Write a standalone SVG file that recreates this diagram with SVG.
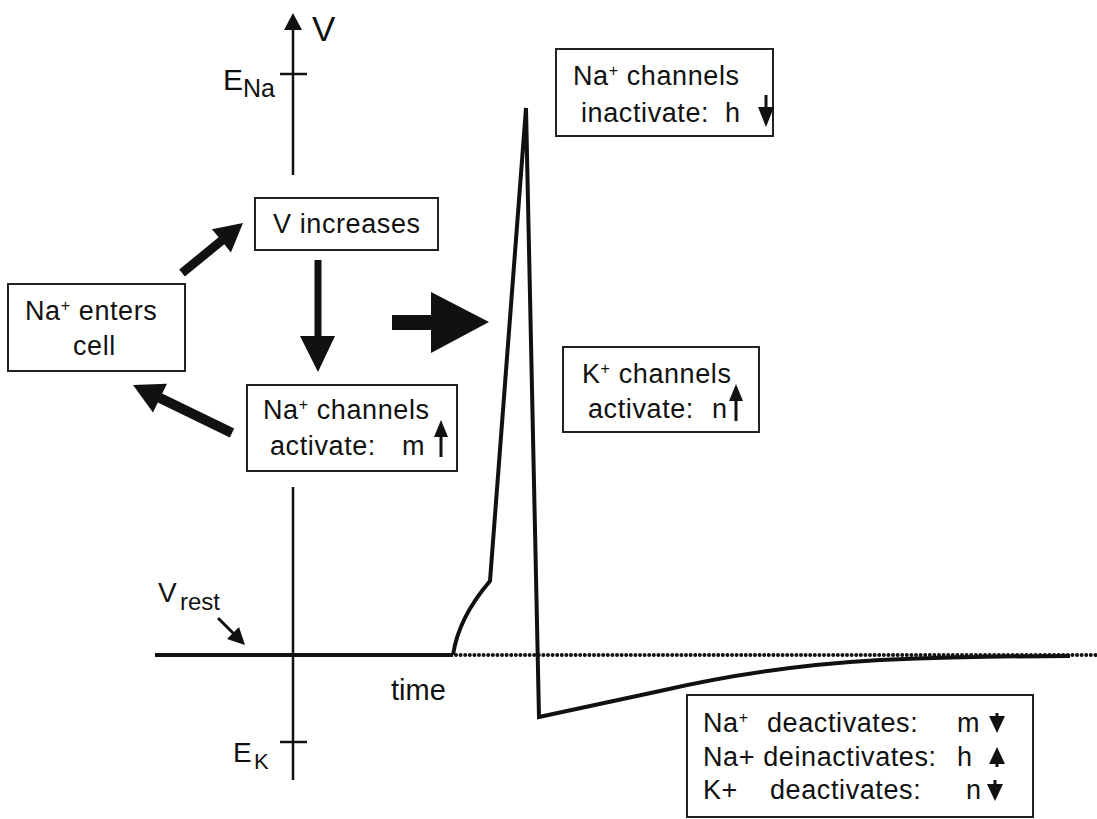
<svg xmlns="http://www.w3.org/2000/svg" width="1097" height="819" viewBox="0 0 1097 819">
<defs>
<style>
text{font-family:"Liberation Sans",Arial,sans-serif;fill:#111;}
.t{font-size:27px;letter-spacing:0.6px;}
.sup{font-size:16px;}
.box{fill:#fff;stroke:#222;stroke-width:2;}
.ax{stroke:#111;stroke-width:2.5;fill:none;}
.curve{stroke:#111;stroke-width:4;fill:none;stroke-linejoin:miter;}
.fill{fill:#111;stroke:none;}
.sm{stroke:#111;stroke-width:3;fill:none;}
</style>
</defs>
<rect width="1097" height="819" fill="#fff"/>

<g id="axes">
<line class="ax" x1="293" y1="28" x2="293" y2="175"/>
<polygon class="fill" points="293,13 284,30 302,30"/>
<line class="ax" x1="293" y1="487" x2="293" y2="780"/>
<line class="ax" x1="280" y1="74" x2="307" y2="74" stroke-width="2"/>
<line class="ax" x1="280" y1="742" x2="307" y2="742" stroke-width="2"/>
<line x1="155" y1="655" x2="453" y2="655" stroke="#111" stroke-width="4"/>
<line x1="456" y1="655" x2="1097" y2="655" stroke="#111" stroke-width="4" stroke-dasharray="0 4.6" stroke-linecap="round"/>
<text x="312" y="41" style="font-size:35px">V</text>
<text x="223" y="90" style="font-size:30px">E</text>
<text x="243" y="97" style="font-size:25px">Na</text>
<text x="233" y="762" style="font-size:28px">E</text>
<text x="254" y="769" style="font-size:22px">K</text>
<text x="158" y="602" style="font-size:28px">V</text>
<text x="180" y="610" style="font-size:24px">rest</text>
<text x="391" y="700" style="font-size:29px">time</text>
<line class="sm" x1="218" y1="618" x2="234" y2="634"/>
<polygon class="fill" points="245,645 227,639 239,627"/>
</g>

<g id="action-potential">
<path class="curve" d="M453,655 C457,628 472,602 490,581 L526,108 L539,717 L660,691 C720,677 790,665 880,660 C960,657 1020,656 1070,656"/>
</g>

<g id="node-na-enters">
<rect class="box" x="8" y="284" width="177" height="87"/>
<text class="t" x="25" y="320">Na<tspan class="sup" dy="-9">+</tspan><tspan dy="9"> enters</tspan></text>
<text class="t" x="73" y="355">cell</text>
</g>

<g id="node-v-increases">
<rect class="box" x="255" y="198" width="183" height="52"/>
<text class="t" x="273" y="233">V increases</text>
</g>

<g id="node-na-activate">
<rect class="box" x="247" y="385" width="210" height="86"/>
<text class="t" x="263" y="419">Na<tspan class="sup" dy="-9">+</tspan><tspan dy="9"> channels</tspan></text>
<text class="t" x="270" y="455">activate:</text>
<text class="t" x="402" y="455">m</text>
<line class="sm" x1="441" y1="434" x2="441" y2="457"/>
<polygon class="fill" points="441,420 434,437 448,437"/>
</g>

<g id="node-na-inactivate">
<rect class="box" x="556" y="49" width="217" height="87"/>
<text class="t" x="573" y="85">Na<tspan class="sup" dy="-9">+</tspan><tspan dy="9"> channels</tspan></text>
<text class="t" x="581" y="122">inactivate:</text>
<text class="t" x="725" y="122">h</text>
<line class="sm" x1="766" y1="95" x2="766" y2="110"/>
<polygon class="fill" points="766,127 758,107 774,107"/>
</g>

<g id="node-k-activate">
<rect class="box" x="563" y="347" width="196" height="85"/>
<text class="t" x="582" y="383">K<tspan class="sup" dy="-9">+</tspan><tspan dy="9"> channels</tspan></text>
<text class="t" x="588" y="418">activate:</text>
<text class="t" x="712" y="418">n</text>
<line class="sm" x1="736" y1="398" x2="736" y2="421"/>
<polygon class="fill" points="736,384 729,401 743,401"/>
</g>

<g id="node-recovery">
<rect class="box" x="687" y="695" width="346" height="122"/>
<text class="t" x="703" y="732">Na<tspan class="sup" dy="-9">+</tspan></text>
<text class="t" x="767" y="732">deactivates:</text>
<text class="t" x="957" y="732">m</text>
<line class="sm" x1="997" y1="713" x2="997" y2="720"/>
<polygon class="fill" points="997,733 989,716 1005,716"/>
<text class="t" x="703" y="766">Na+ deinactivates:</text>
<text class="t" x="957" y="766">h</text>
<line class="sm" x1="997" y1="760" x2="997" y2="767"/>
<polygon class="fill" points="997,747 989,764 1005,764"/>
<text class="t" x="703" y="799">K+</text>
<text class="t" x="770" y="799">deactivates:</text>
<text class="t" x="966" y="799">n</text>
<line class="sm" x1="995" y1="780" x2="995" y2="788"/>
<polygon class="fill" points="995,801 987,784 1003,784"/>
</g>

<g id="connectors">
<polygon class="fill" points="179.2,269.5 218.6,237.3 211.9,229.2 243,223 230.9,252.4 224.3,244.3 184.9,276.5"/>
<polygon class="fill" points="314.5,260 321.5,260 321.5,336 335,336 318,372 300,336 314.5,336"/>
<polygon class="fill" points="234.2,428.5 162.2,393.6 167,383.7 133,385 153,412.5 157.8,402.6 229.8,437.5"/>
<polygon class="fill" points="392,315 431,315 431,292 489,322 431,353 431,330 392,330"/>
</g>
</svg>
